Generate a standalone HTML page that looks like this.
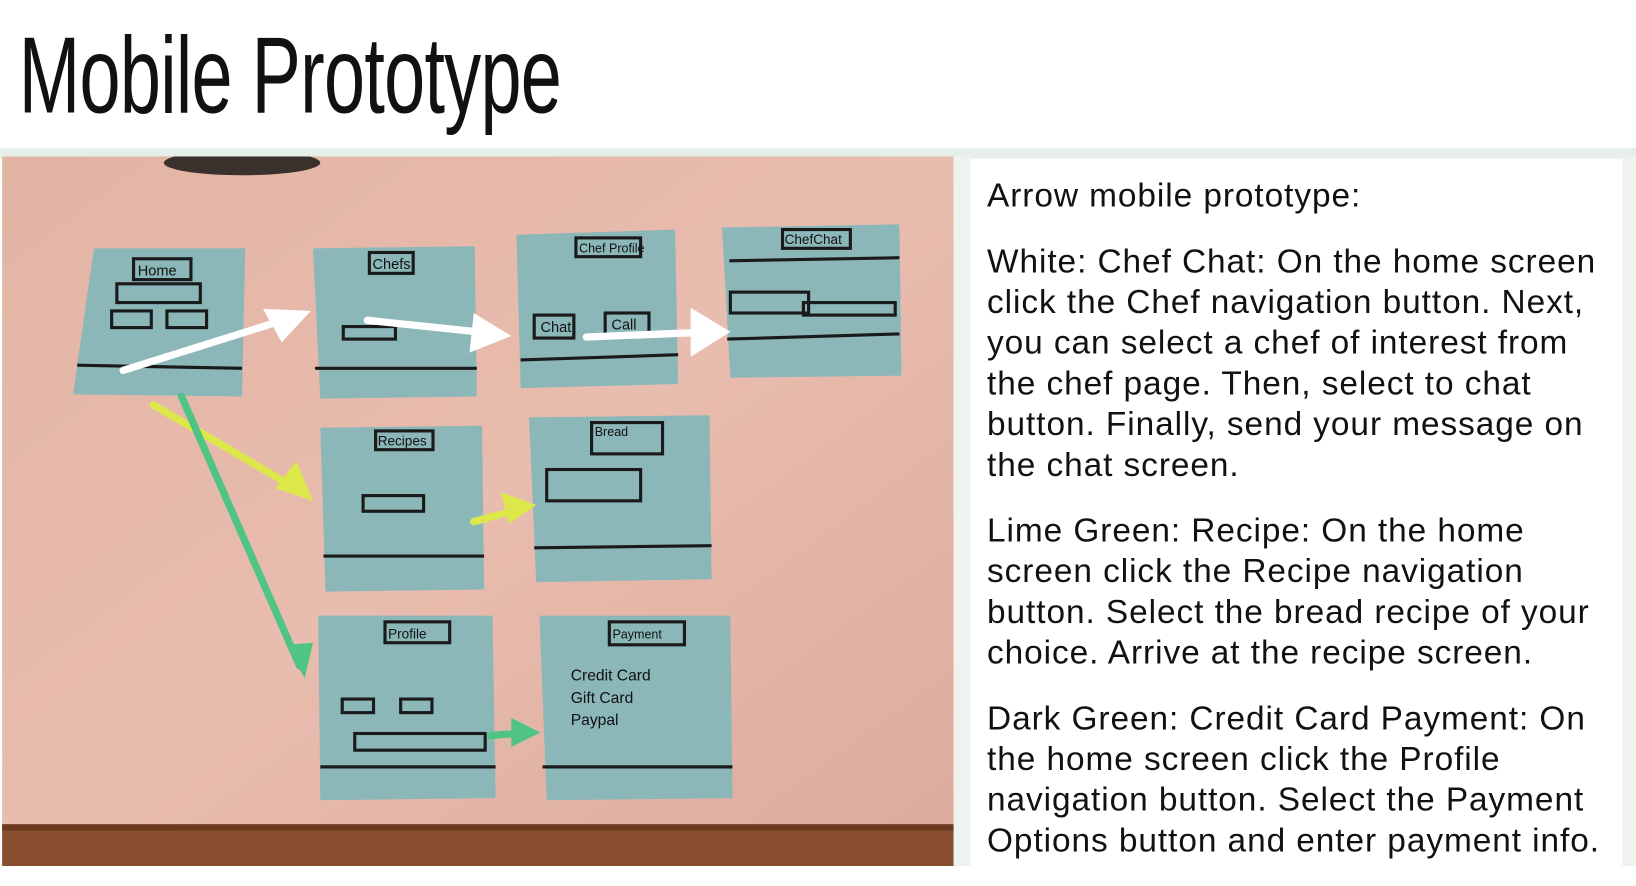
<!DOCTYPE html>
<html><head><meta charset="utf-8"><style>
html,body{margin:0;padding:0;background:#fff;overflow:hidden}
#w{position:absolute;left:0;top:0;width:1568px;height:830px;transform:scale(1.04337,1.04337);transform-origin:0 0}
.t{position:absolute;left:18px;top:14px;font-family:"Liberation Sans Narrow","Liberation Sans",sans-serif;font-size:104px;color:#111;transform:scaleX(0.68);transform-origin:0 0;letter-spacing:-1px;white-space:nowrap}
.band{position:absolute;left:0;top:142px;width:1568px;height:10px;background:#e6eeea}
.side{position:absolute;left:914px;top:150px;width:16px;height:680px;background:#eef3f0}
.side2{position:absolute;left:1555px;top:150px;width:13px;height:680px;background:#eef3f0}
.txt{position:absolute;left:946px;top:168px;font-family:"Liberation Sans",sans-serif;font-size:32px;letter-spacing:0.9px;line-height:39px;color:#111;white-space:nowrap}
.txt p{margin:0 0 24px 0}
</style></head><body><div id="w">
<div class="t">Mobile Prototype</div>
<div class="band"></div><div class="side"></div><div class="side2"></div>
<svg style="position:absolute;left:2px;top:150px" width="912" height="680" viewBox="0 0 912 680">
<defs><linearGradient id="g" x1="0" y1="0" x2="1" y2="1"><stop offset="0" stop-color="#e2b4a4"/><stop offset="0.5" stop-color="#e8bcae"/><stop offset="1" stop-color="#dcab9c"/></linearGradient></defs>
<rect width="912" height="680" fill="url(#g)"/>
<rect x="0" y="640" width="912" height="40" fill="#8a4f2e"/>
<rect x="0" y="640" width="912" height="6" fill="#6b3a20"/>
<ellipse cx="230" cy="6" rx="75" ry="12" fill="#3a302c"/>
<g fill="#8bb7b9">
<polygon points="88,88 233,88 230,230 68,228"/>
<polygon points="298,88 453,86 455,230 305,232"/>
<polygon points="493,75 645,70 648,218 497,222"/>
<polygon points="690,68 860,65 862,210 698,212"/>
<polygon points="305,260 460,258 462,415 310,417"/>
<polygon points="505,250 678,248 680,405 512,408"/>
<polygon points="303,440 470,440 473,615 305,617"/>
<polygon points="515,440 698,440 700,615 522,617"/>
</g>
<g stroke="#1a1a1a" stroke-width="3" fill="none">
<line x1="72" y1="200" x2="230" y2="203"/><line x1="300" y1="203" x2="455" y2="203"/>
<line x1="497" y1="195" x2="648" y2="190"/><line x1="695" y1="175" x2="860" y2="170"/>
<line x1="697" y1="100" x2="860" y2="97"/>
<line x1="308" y1="383" x2="462" y2="383"/><line x1="510" y1="375" x2="680" y2="373"/>
<line x1="305" y1="585" x2="473" y2="585"/><line x1="518" y1="585" x2="700" y2="585"/>
<rect x="126" y="98" width="55" height="20"/><rect x="352" y="92" width="42" height="20"/>
<rect x="550" y="78" width="62" height="18"/><rect x="748" y="70" width="65" height="18"/>
<rect x="358" y="263" width="55" height="18"/><rect x="565" y="255" width="68" height="30"/>
<rect x="367" y="446" width="62" height="20"/><rect x="582" y="446" width="72" height="22"/>
<rect x="110" y="122" width="80" height="18"/><rect x="105" y="148" width="38" height="16"/><rect x="158" y="148" width="38" height="16"/>
<rect x="510" y="152" width="38" height="22"/><rect x="578" y="150" width="42" height="22"/>
<rect x="327" y="163" width="50" height="12"/><rect x="698" y="130" width="75" height="20"/><rect x="768" y="140" width="88" height="12"/>
<rect x="522" y="300" width="90" height="30"/><rect x="346" y="325" width="58" height="15"/>
<rect x="338" y="553" width="125" height="16"/><rect x="326" y="520" width="30" height="13"/><rect x="382" y="520" width="30" height="13"/>
</g>
<g font-family="Liberation Sans,sans-serif" font-size="14" fill="#111">
<text x="130" y="114">Home</text><text x="355" y="108">Chefs</text><text x="553" y="92" font-size="12">Chef Profile</text>
<text x="750" y="84" font-size="13">ChefChat</text><text x="360" y="277" font-size="13">Recipes</text>
<text x="568" y="268" font-size="12">Bread</text><text x="370" y="462" font-size="13">Profile</text><text x="585" y="462" font-size="12">Payment</text>
<text x="516" y="168">Chat</text><text x="584" y="166">Call</text>
<text x="545" y="502" font-size="15">Credit Card</text><text x="545" y="524" font-size="15">Gift Card</text><text x="545" y="545" font-size="15">Paypal</text>
</g>
<g fill="none" stroke-width="7" stroke-linecap="round">
<path d="M116 205 L285 152" stroke="#fff"/><path d="M350 157 L475 170" stroke="#fff"/><path d="M560 173 L685 168" stroke="#fff"/>
<path d="M145 238 L288 322" stroke="#dce84a"/><path d="M452 350 L500 337" stroke="#dce84a"/>
<path d="M172 230 L285 488" stroke="#4fc485"/><path d="M468 555 L505 552" stroke="#4fc485"/>
</g>
<g stroke="none">
<polygon points="296,148 250,146 268,178" fill="#fff"/><polygon points="488,172 452,150 448,188" fill="#fff"/><polygon points="698,168 660,145 660,192" fill="#fff"/>
<polygon points="298,330 262,318 282,292" fill="#dce84a"/><polygon points="512,334 478,322 486,352" fill="#dce84a"/>
<polygon points="290,500 272,468 298,466" fill="#4fc485"/><polygon points="516,552 488,538 488,566" fill="#4fc485"/>
</g>
</svg>
<div class="txt">
<p>Arrow mobile prototype:</p>
<p>White: Chef Chat: On the home screen<br>click the Chef navigation button. Next,<br>you can select a chef of interest from<br>the chef page. Then, select to chat<br>button. Finally, send your message on<br>the chat screen.</p>
<p>Lime Green: Recipe: On the home<br>screen click the Recipe navigation<br>button. Select the bread recipe of your<br>choice. Arrive at the recipe screen.</p>
<p>Dark Green: Credit Card Payment: On<br>the home screen click the Profile<br>navigation button. Select the Payment<br>Options button and enter payment info.</p>
</div>
</div></body></html>
